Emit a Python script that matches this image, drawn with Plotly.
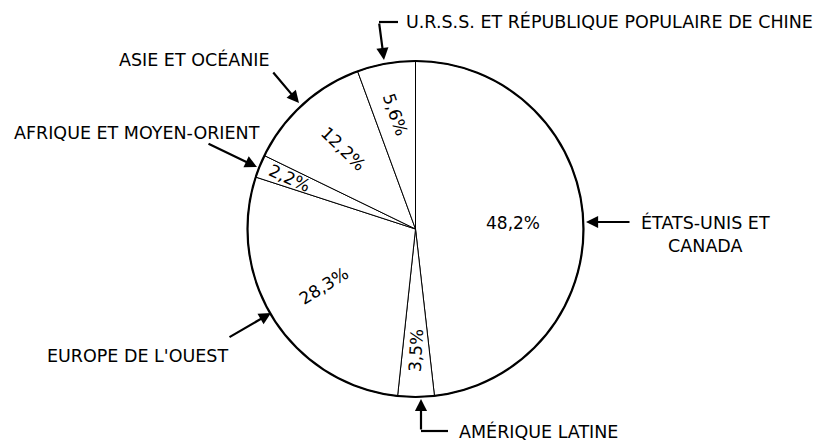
import math
import plotly.graph_objects as go

W, H = 814, 442

regions = ['ÉTATS-UNIS ET CANADA', 'AMÉRIQUE LATINE', "EUROPE DE L'OUEST",
           'AFRIQUE ET MOYEN-ORIENT', 'ASIE ET OCÉANIE',
           'U.R.S.S. ET RÉPUBLIQUE POPULAIRE DE CHINE']
shares = [48.2, 3.5, 28.3, 2.2, 12.2, 5.6]

# layout of the inside labels (distance as fraction of radius, angle nudge, text rotation)
lab_r = [0.58, 0.72, 0.645, 0.81, 0.64, 0.695]
lab_nudge = [0, 0, 1, 0, 0, 0]
lab_rot = [0, -87, -32, 24, 44, 71]

cx, cy, R = 415.5, 229, 168
FONT = 'DejaVu Sans, sans-serif'


def px(x, y):
    return x / W, 1 - y / H


fig = go.Figure()
fig.add_trace(go.Pie(
    labels=regions, values=shares, sort=False, direction='clockwise', rotation=0,
    textinfo='none', hoverinfo='label+percent', showlegend=False,
    marker=dict(colors=['white'] * len(shares), line=dict(color='black', width=1)),
    domain=dict(x=[(cx - R) / W, (cx + R) / W], y=[(H - cy - R) / H, (H - cy + R) / H]),
))

ann = []
# percent labels placed from the cumulative angles
total = sum(shares)
start = 0
for v, f, nd, rot in zip(shares, lab_r, lab_nudge, lab_rot):
    mid = (start + v / 2) / total * 360 + nd
    start += v
    x = cx + R * f * math.sin(math.radians(mid))
    y = cy - R * f * math.cos(math.radians(mid))
    xx, yy = px(x, y)
    ann.append(dict(x=xx, y=yy, xref='paper', yref='paper', showarrow=False,
                    xanchor='center', yanchor='middle',
                    text=f'{v:.1f}'.replace('.', ',') + '%', textangle=rot,
                    font=dict(family=FONT, size=17, color='black')))

# outer labels
txt = [
    ('ÉTATS-UNIS ET<br>CANADA', 705, 234, 'center'),
    ('AMÉRIQUE LATINE', 457, 431, 'left'),
    ("EUROPE DE L'OUEST", 45, 356, 'left'),
    ('AFRIQUE ET MOYEN-ORIENT', 12, 132.5, 'left'),
    ('ASIE ET OCÉANIE', 117, 59.5, 'left'),
    ('U.R.S.S. ET RÉPUBLIQUE POPULAIRE DE CHINE', 404, 21, 'left'),
]
for t, x, y, al in txt:
    xx, yy = px(x, y)
    ann.append(dict(x=xx, y=yy, xref='paper', yref='paper', showarrow=False, text=t,
                    xanchor=al, align='center', yanchor='middle',
                    font=dict(family=FONT, size=17.5, color='black')))

# arrows: head, tail
arrows = [
    ((586, 222), (631, 222)),
    ((421, 399), (421, 431)),
    ((271, 313), (228, 338)),
    ((257, 167), (207, 143)),
    ((299, 103), (272, 71)),
    ((384, 60), (379, 22)),
]
for (hx, hy), (tx, ty) in arrows:
    xx, yy = px(hx, hy)
    ann.append(dict(x=xx, y=yy, xref='paper', yref='paper', text='', showarrow=True,
                    ax=tx - hx, ay=ty - hy, arrowhead=2, arrowsize=1.1, arrowwidth=2.2,
                    arrowcolor='black', standoff=0))

shapes = [
    dict(type='circle', xref='paper', yref='paper',
         x0=(cx - R) / W, x1=(cx + R) / W, y0=(H - cy - R) / H, y1=(H - cy + R) / H,
         line=dict(color='black', width=2.2)),
]
for (x0, y0), (x1, y1) in [((379, 22), (398, 22)), ((421, 431), (448, 431))]:
    a, b = px(x0, y0)
    c, d = px(x1, y1)
    shapes.append(dict(type='line', xref='paper', yref='paper', x0=a, y0=b, x1=c, y1=d,
                       line=dict(color='black', width=2.2)))

fig.update_layout(
    width=W, height=H, margin=dict(l=0, r=0, t=0, b=0),
    paper_bgcolor='white', plot_bgcolor='white',
    annotations=ann, shapes=shapes,
)
fig.write_html('out.html', config={'displayModeBar': False},
               post_script="document.body.style.margin='0';")
